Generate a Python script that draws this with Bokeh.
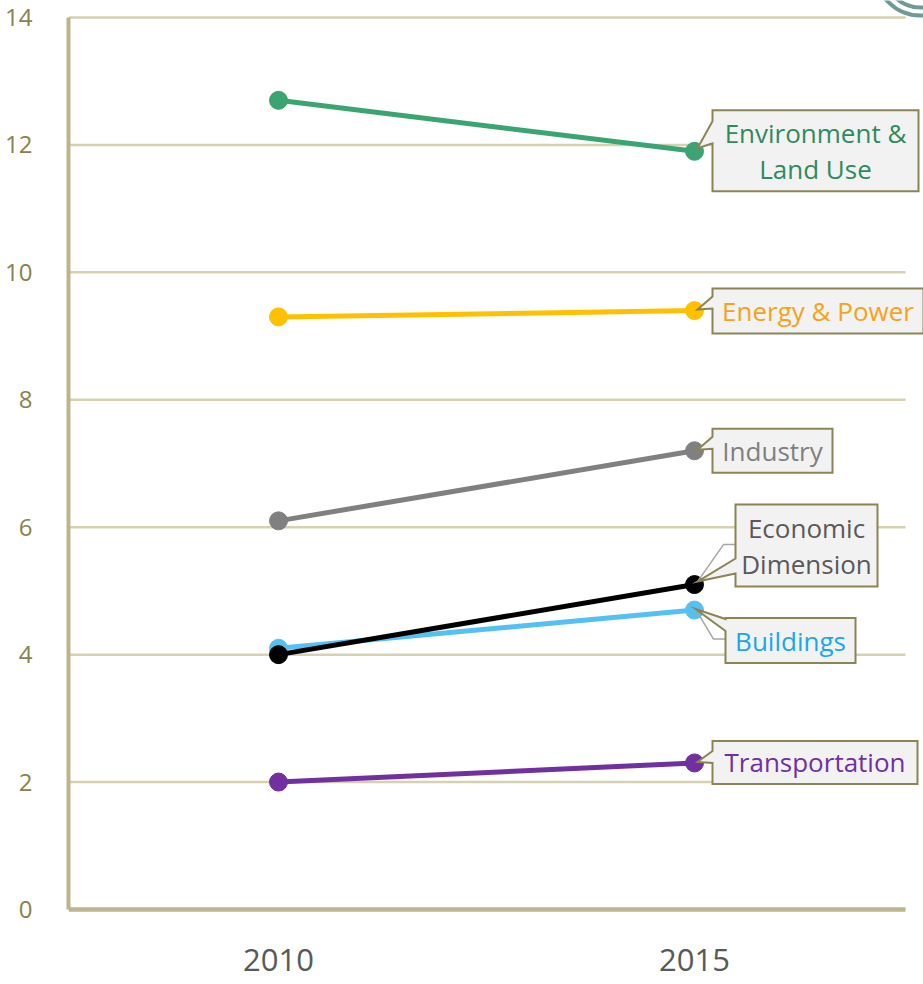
from math import pi
from bokeh.plotting import figure
from bokeh.models import Range1d, FixedTicker
from bokeh.embed import file_html
from bokeh.resources import INLINE
from bokeh.core.properties import value

# ---------------- data ----------------
years = ["2010", "2015"]
y_ticks = [0, 2, 4, 6, 8, 10, 12, 14]
env = [12.7, 11.9]
energy = [9.3, 9.4]
industry = [6.1, 7.2]
buildings = [4.1, 4.7]
economic = [4.0, 5.1]
transport = [2.0, 2.3]

series_names = ["Environment & Land Use", "Energy & Power", "Industry",
                "Buildings", "Economic Dimension", "Transportation"]
series_values = [env, energy, industry, buildings, economic, transport]
label_lines = [["Environment &", "Land Use"], ["Energy & Power"], ["Industry"],
               ["Buildings"], ["Economic", "Dimension"], ["Transportation"]]

# ---------------- styles ----------------
line_colors = ["#3aa572", "#ffc000", "#808080", "#55c0f2", "#000000", "#7030a0"]
text_colors = ["#2f8a5c", "#f7a21b", "#7f7f7f", "#1aa8ea", "#595959", "#7030a0"]
# callout geometry in screen px relative to the 2015 point (y downwards):
# (left, top, width, height, wedge_top, wedge_bottom, tip_x, tip_y, leader)
callouts = [
    (18, -41, 206, 81, -30, -8, 3, -3, None),
    (18, -22, 211, 45, -14, -2, 3, -1, None),
    (18, -22, 120, 44, -14, -2, 3, -1, None),
    (31, 8, 130, 45, 9, 21, 1, -1, [(31, 29), (19, 29), (1, -1)]),
    (41, -80, 142, 82, -26, -11, 3, -3, [(41, -40), (29, -40), (3, -3)]),
    (18, -22, 205, 43, -12, 0, 3, -1, None),
]

W, H = 923, 984
FL, FR, FT, FB = 68, 923, 0, 912          # frame edges in px
x0_px, x1_px = 278, 694                   # 2010 / 2015 positions
y0_px, y14_px = 909, 17                   # value 0 / value 14 positions
PX = (x1_px - x0_px) / 1.0
PY = (y0_px - y14_px) / 14.0
x_start = -(x0_px - FL) / PX
x_end = x_start + (FR - FL) / PX
y_start = -(FB - y0_px) / PY
y_end = (y0_px - FT) / PY
grid_end = (905 - x0_px) / PX

p = figure(width=W, height=H, output_backend="svg", toolbar_location=None,
           x_range=Range1d(x_start, x_end), y_range=Range1d(y_start, y_end),
           min_border_left=FL, min_border_right=0, min_border_top=FT,
           min_border_bottom=H - FB)
p.outline_line_color = None
p.background_fill_color = "white"
p.border_fill_color = "white"
p.xgrid.visible = False
p.ygrid.visible = False

# gridlines
grid_vals = [t for t in y_ticks if t > 0]
p.segment(x0=[x_start] * len(grid_vals), x1=[grid_end] * len(grid_vals),
          y0=grid_vals, y1=grid_vals, line_color="#d6d1ae", line_width=2.5)
# bottom axis line
p.segment(x0=[x_start], x1=[grid_end], y0=[0], y1=[0],
          line_color="#bdb58a", line_width=4.5)

# y axis
yax = p.yaxis[0]
yax.ticker = FixedTicker(ticks=y_ticks)
yax.bounds = (0, 14)
yax.axis_line_color = "#bdb58a"
yax.axis_line_width = 4
yax.major_tick_line_color = None
yax.minor_tick_line_color = None
yax.major_label_text_font = "Open Sans"
yax.major_label_text_font_size = "24px"
yax.major_label_text_color = "#8a8150"
yax.major_label_standoff = 30

# x axis
xax = p.xaxis[0]
xax.ticker = FixedTicker(ticks=[0, 1])
xax.major_label_overrides = {0: years[0], 1: years[1]}
xax.axis_line_color = None
xax.major_tick_line_color = None
xax.minor_tick_line_color = None
xax.major_label_text_font = "Open Sans"
xax.major_label_text_font_size = "31px"
xax.major_label_text_color = "#595959"
xax.major_label_standoff = 30

# decorative rings at top right
cx = (920 - x0_px) / PX
cy = (y0_px + 30) / PY
p.arc(x=[cx, cx], y=[cy, cy], radius=[45, 37], radius_units="screen",
      start_angle=0, end_angle=2 * pi, line_color="#6f9a97", line_width=4)

xs = [0, 1]
for vals, col in zip(series_values, line_colors):
    p.line(xs, vals, line_color=col, line_width=5)
    p.scatter(xs, vals, size=18, fill_color=col, line_color=col)

# callouts
def to_data(xp, yp, px_pt, py_pt):
    return px_pt + xp / PX, py_pt - yp / PY

for vals, lines, tcol, geo in zip(series_values, label_lines, text_colors, callouts):
    L, T, Wb, Hb, wt, wb, tx, ty, leader = geo
    ptx, pty = 1, vals[1]
    if leader:
        lx, ly = zip(*[to_data(a, b, ptx, pty) for a, b in leader])
        p.line(list(lx), list(ly), line_color="#a6a6a6", line_width=1.5)
    verts = [(L, T), (L + Wb, T), (L + Wb, T + Hb), (L, T + Hb), (L, wb), (tx, ty), (L, wt)]
    vx, vy = zip(*[to_data(a, b, ptx, pty) for a, b in verts])
    p.patch(list(vx), list(vy), fill_color="#f2f2f2", line_color="#8c8454",
            line_width=2, line_join="miter")
    n = len(lines)
    cxp = L + Wb / 2
    cyp = T + Hb / 2
    for i, t in enumerate(lines):
        yy = cyp + (i - (n - 1) / 2) * 36
        X, Y = to_data(cxp, yy, ptx, pty)
        p.text(x=[X], y=[Y], text=[t], text_color=tcol, text_align="center",
               text_baseline="middle", text_font=value("Open Sans"),
               text_font_size=value("26px"))

open("out.html", "w").write(file_html(p, INLINE))
